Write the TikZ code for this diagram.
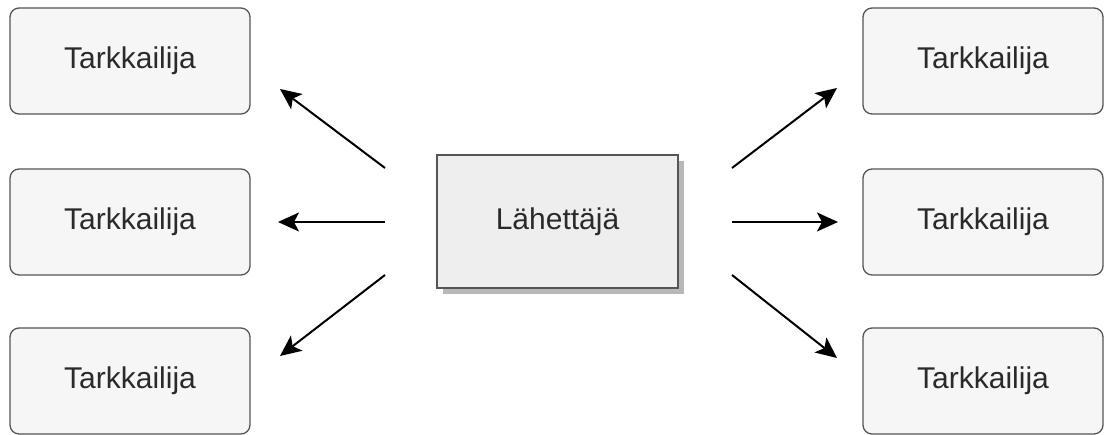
\documentclass[tikz,border=0pt]{standalone}
\usepackage{fontspec}
\setmainfont{Liberation Sans}
\usetikzlibrary{arrows.meta}
\definecolor{boxline}{HTML}{555555}
\definecolor{boxfill}{HTML}{F6F6F6}
\definecolor{mainfill}{HTML}{EEEEEE}
\definecolor{shadowgray}{HTML}{B8B8B8}
\definecolor{textgray}{HTML}{2A2A2A}
\tikzset{
  watcher/.style={draw=boxline, line width=1.3pt, fill=boxfill, rounded corners=9pt,
    minimum width=240pt, minimum height=106pt, inner sep=0pt,
    font=\fontsize{30}{36}\selectfont, text=textgray},
  sender/.style={draw=boxline, line width=1.3pt, fill=mainfill,
    minimum width=241pt, minimum height=133pt, inner sep=0pt,
    font=\fontsize{30}{36}\selectfont, text=textgray},
  sendshadow/.style={fill=shadowgray, draw=none,
    minimum width=241pt, minimum height=133pt, inner sep=0pt},
  link/.style={line width=2pt, -{Stealth[length=21pt 0, width=19pt 0, inset=5pt]}}
}
\begin{document}
\begin{tikzpicture}[x=1pt, y=-1pt]
\useasboundingbox (0,0) rectangle (1104,435);
% left watchers
\node[watcher] (l1) at (130,61) {Tarkkailija};
\node[watcher] (l2) at (130,222) {Tarkkailija};
\node[watcher] (l3) at (130,381) {Tarkkailija};
% right watchers
\node[watcher] (r1) at (983,61) {Tarkkailija};
\node[watcher] (r2) at (983,222) {Tarkkailija};
\node[watcher] (r3) at (983,381) {Tarkkailija};
% sender
\node[sendshadow] (sh) at (563.5,227.5) {};
\node[sender] (s) at (557.5,221.5) {Lähettäjä};
% arrow end points
\coordinate (la1) at (385,168);
\coordinate (lb1) at (280,89);
\coordinate (la2) at (385,222);
\coordinate (lb2) at (278,222);
\coordinate (la3) at (385,275);
\coordinate (lb3) at (280,356);
\coordinate (ra1) at (732,168);
\coordinate (rb1) at (837,88);
\coordinate (ra2) at (732,222);
\coordinate (rb2) at (838,222);
\coordinate (ra3) at (732,275);
\coordinate (rb3) at (837,358);
\draw[link] (la1) -- (lb1);
\draw[link] (la2) -- (lb2);
\draw[link] (la3) -- (lb3);
\draw[link] (ra1) -- (rb1);
\draw[link] (ra2) -- (rb2);
\draw[link] (ra3) -- (rb3);
\end{tikzpicture}
\end{document}
